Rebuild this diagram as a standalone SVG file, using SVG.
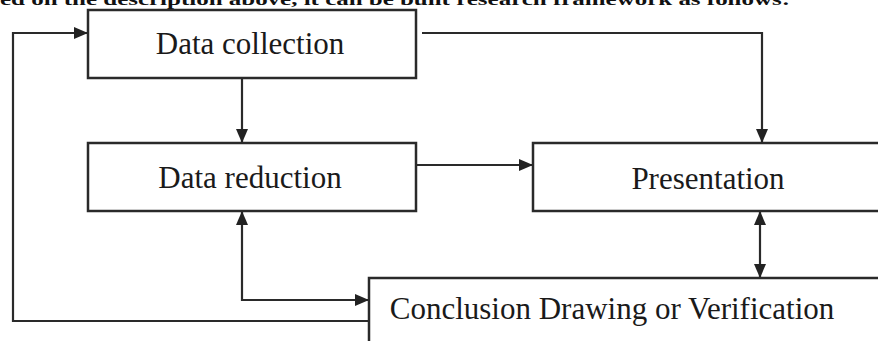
<svg xmlns="http://www.w3.org/2000/svg" width="878" height="341" viewBox="0 0 878 341">
  <defs>
    <marker id="arrow" viewBox="0 0 14 12" refX="14" refY="6" markerWidth="14" markerHeight="12" markerUnits="userSpaceOnUse" orient="auto-start-reverse">
      <path d="M0,0 L14,6 L0,12 Z" fill="#222"/>
    </marker>
  </defs>
  <style>
    .box { fill: #fff; stroke: #2a2a2a; stroke-width: 2.5; }
    .label { font-family: "Liberation Serif", "Times New Roman", serif; font-size: 31px; fill: #1a1a1a; text-anchor: middle; }
    .link { fill: none; stroke: #2a2a2a; stroke-width: 2.2; }
    .lead { font-family: "Liberation Serif", "Times New Roman", serif; font-size: 17px; font-weight: bold; fill: #111; }
  </style>
  <rect width="878" height="341" fill="#fff"/>

  <!-- running text above the framework, partly above the top edge -->
  <text class="lead" x="0" y="5" textLength="790" lengthAdjust="spacingAndGlyphs">ed on the description above, it can be built research framework as follows:</text>

  <g id="connectors">
    <!-- feedback loop from conclusion back to collection -->
    <polyline class="link" points="369,321 13,321 13,33 88,33" marker-end="url(#arrow)"/>
    <!-- collection to reduction -->
    <line class="link" x1="242" y1="78" x2="242" y2="143" marker-end="url(#arrow)"/>
    <!-- collection to presentation -->
    <polyline class="link" points="422,33 762,33 762,143" marker-end="url(#arrow)"/>
    <!-- reduction to presentation -->
    <line class="link" x1="416" y1="165" x2="533" y2="165" marker-end="url(#arrow)"/>
    <!-- reduction and conclusion -->
    <polyline class="link" points="242,211 242,300 369,300" marker-start="url(#arrow)" marker-end="url(#arrow)"/>
    <!-- presentation and conclusion -->
    <line class="link" x1="760" y1="211" x2="760" y2="278" marker-start="url(#arrow)" marker-end="url(#arrow)"/>
  </g>

  <g id="data-collection">
    <rect class="box" x="88" y="10" width="328" height="68"/>
    <text class="label" x="250" y="54">Data collection</text>
  </g>
  <g id="data-reduction">
    <rect class="box" x="88" y="143" width="328" height="68"/>
    <text class="label" x="250" y="188">Data reduction</text>
  </g>
  <g id="presentation">
    <rect class="box" x="533" y="143" width="352" height="68"/>
    <text class="label" x="708" y="189">Presentation</text>
  </g>
  <g id="conclusion">
    <rect class="box" x="369" y="278" width="520" height="80"/>
    <text class="label" x="612" y="319">Conclusion Drawing or Verification</text>
  </g>
</svg>
